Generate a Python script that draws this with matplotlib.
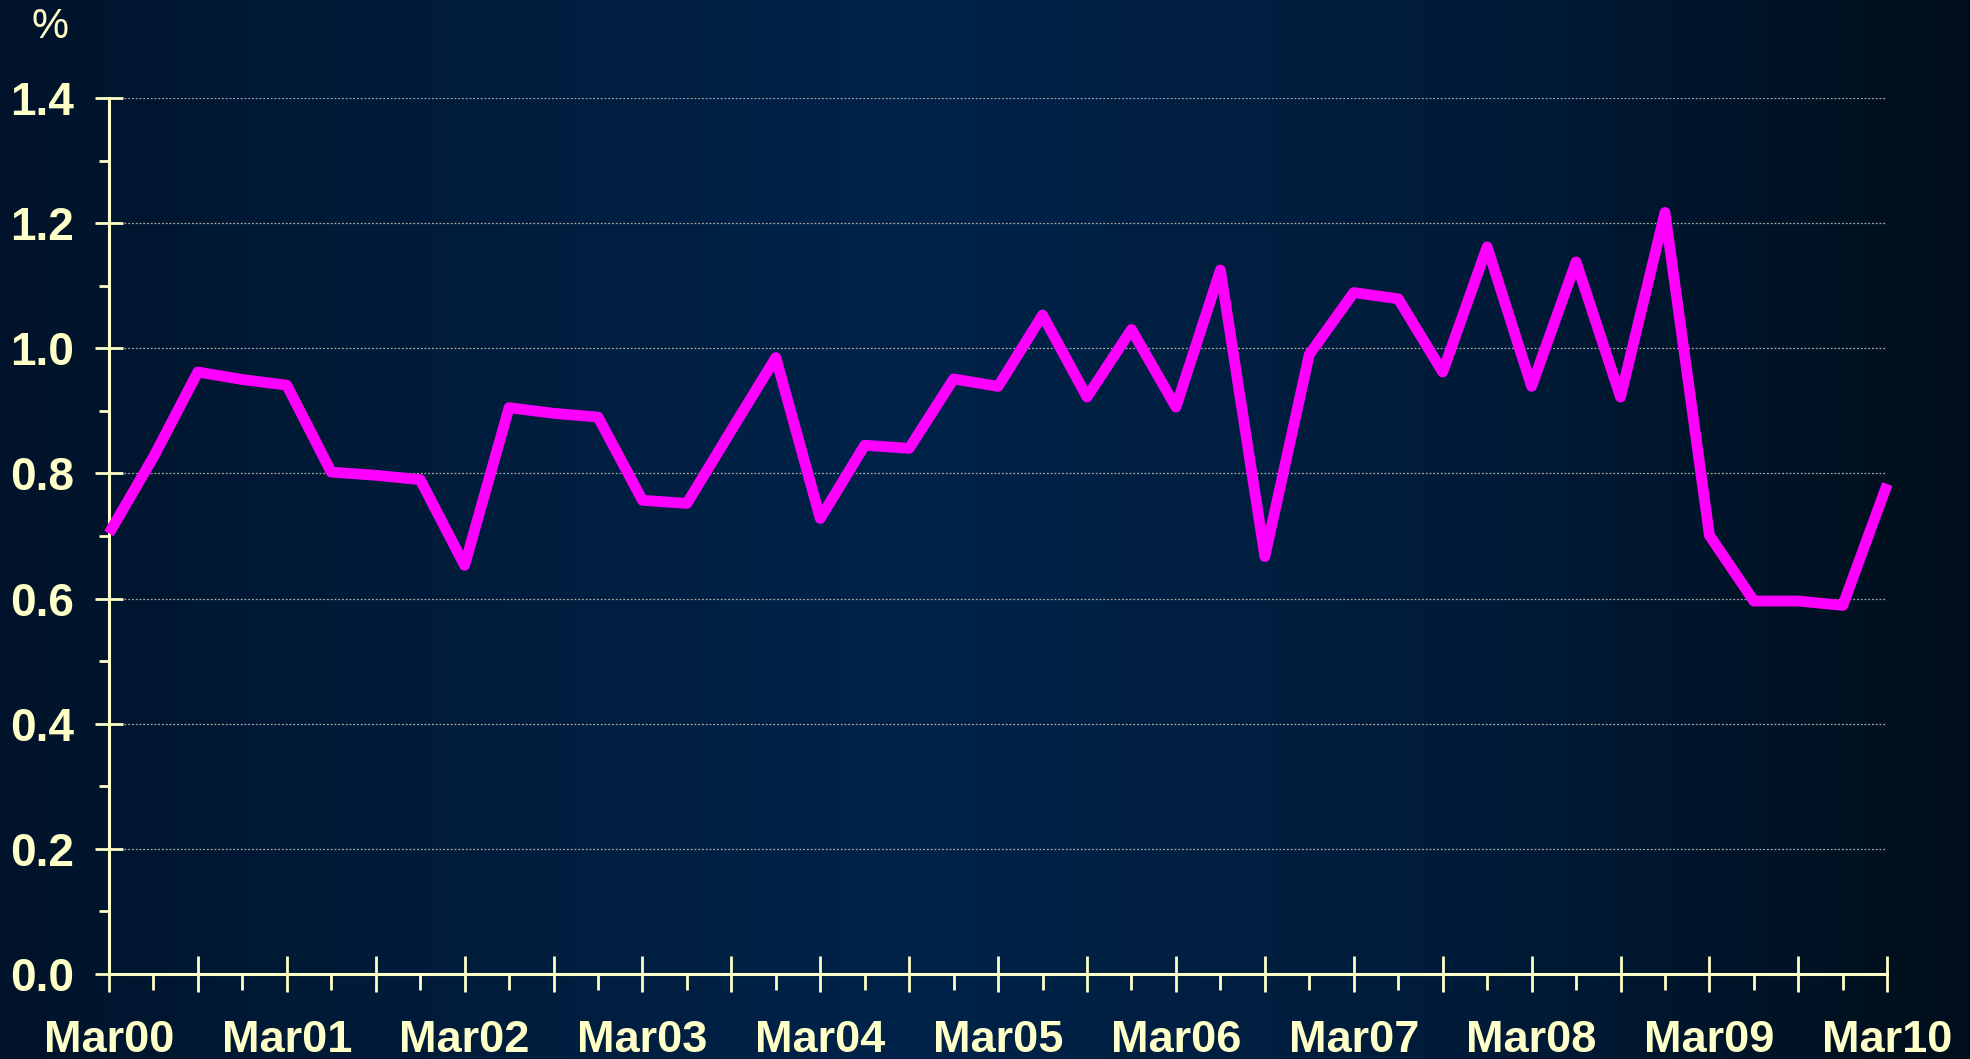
import numpy as np
import matplotlib
matplotlib.use("Agg")
import matplotlib.pyplot as plt
from matplotlib.colors import LinearSegmentedColormap
from matplotlib.ticker import MultipleLocator, FixedLocator, NullFormatter
from matplotlib import font_manager as fm
from matplotlib.transforms import blended_transform_factory

# ---- data (quarterly, Mar 2000 .. Mar 2010) ----
values = [0.704, 0.826, 0.962, 0.950, 0.941, 0.802, 0.797, 0.790,
          0.653, 0.905, 0.896, 0.890, 0.757, 0.752, 0.869, 0.985,
          0.728, 0.845, 0.840, 0.951, 0.939, 1.053, 0.922, 1.030,
          0.906, 1.125, 0.667, 0.990, 1.089, 1.079, 0.962, 1.162,
          0.939, 1.138, 0.922, 1.217, 0.701, 0.596, 0.596, 0.589,
          0.783]
year_labels = ["Mar00", "Mar01", "Mar02", "Mar03", "Mar04", "Mar05",
               "Mar06", "Mar07", "Mar08", "Mar09", "Mar10"]
y_ticks = [0.0, 0.2, 0.4, 0.6, 0.8, 1.0, 1.2, 1.4]
unit_label = "%"

CREAM = "#FFFFC8"
MAGENTA = "#FF00FF"

# narrow bold font for the date labels if available
narrow_path = None
for f in fm.fontManager.ttflist:
    if "LiberationSansNarrow-Bold." in f.fname:
        narrow_path = f.fname
        break
if narrow_path:
    xlab_fp = fm.FontProperties(fname=narrow_path, size=38)
else:
    xlab_fp = fm.FontProperties(family=["Liberation Sans", "DejaVu Sans"],
                                weight="bold", size=32.5)

fig = plt.figure(figsize=(19.70, 10.59), dpi=100)

# background gradient
bg = fig.add_axes([0, 0, 1, 1], zorder=-10)
cmap = LinearSegmentedColormap.from_list(
    "bg", [(0.0, "#00132a"), (0.15, "#001a36"), (0.46, "#00234a"),
           (0.76, "#001b38"), (0.965, "#00101f"), (1.0, "#000e1c")])
grad = np.linspace(0, 1, 512).reshape(1, -1)
bg.imshow(grad, aspect="auto", cmap=cmap, extent=[0, 1, 0, 1])
bg.set_axis_off()

ax = fig.add_axes([0.0553, 0.0803, 0.958 - 0.0553, 0.9075 - 0.0803])
ax.set_facecolor("none")

x = np.arange(len(values))
ax.plot(x, values, color=MAGENTA, lw=7.8, solid_joinstyle="round",
        solid_capstyle="butt", zorder=5, clip_on=False)

ax.set_xlim(0, len(values) - 1)
ax.set_ylim(0, 1.4)

for s in ["top", "right"]:
    ax.spines[s].set_visible(False)
for s in ["left", "bottom"]:
    ax.spines[s].set_color(CREAM)
    ax.spines[s].set_linewidth(2.2)

# y axis ticks
ax.yaxis.set_major_locator(FixedLocator(y_ticks))
ax.yaxis.set_minor_locator(MultipleLocator(0.1))
ax.set_yticklabels([f"{v:.1f}" for v in y_ticks])
ax.tick_params(axis="y", which="major", direction="inout", length=20,
               width=2.0, color=CREAM, labelcolor=CREAM, pad=15,
               labelsize=33)
ax.tick_params(axis="y", which="minor", direction="out", length=7.5,
               width=2.0, color=CREAM)
for lab in ax.get_yticklabels():
    lab.set_fontfamily(["Liberation Sans", "DejaVu Sans"])
    lab.set_fontweight("bold")

# x axis ticks: major every 2 quarters, minor at odd quarters
major_x = list(range(0, len(values), 2))
minor_x = list(range(1, len(values), 2))
ax.xaxis.set_major_locator(FixedLocator(major_x))
ax.xaxis.set_minor_locator(FixedLocator(minor_x))
ax.xaxis.set_major_formatter(NullFormatter())
ax.tick_params(axis="x", which="major", direction="inout", length=26,
               width=2.0, color=CREAM)
ax.tick_params(axis="x", which="minor", direction="out", length=11.5,
               width=2.0, color=CREAM)

# date labels every 4 quarters
trans = blended_transform_factory(ax.transData, fig.transFigure)
for i, lab in enumerate(year_labels):
    ax.text(i * 4, 1 - 1041 / 1059, lab, transform=trans, ha="center",
            va="center", color=CREAM, fontproperties=xlab_fp, clip_on=False)

# grid
ax.yaxis.grid(True, which="major", linestyle=(0, (1.5, 1.5)), color="#a8a8a8",
              lw=0.9)
ax.set_axisbelow(True)
for gl in ax.yaxis.get_gridlines()[:1]:
    gl.set_visible(False)

fig.text(50 / 1970, 1 - 27 / 1059, unit_label, color=CREAM, fontsize=30,
         ha="center", va="center", family=["Liberation Sans", "DejaVu Sans"])

fig.savefig("out.png", dpi=100)
